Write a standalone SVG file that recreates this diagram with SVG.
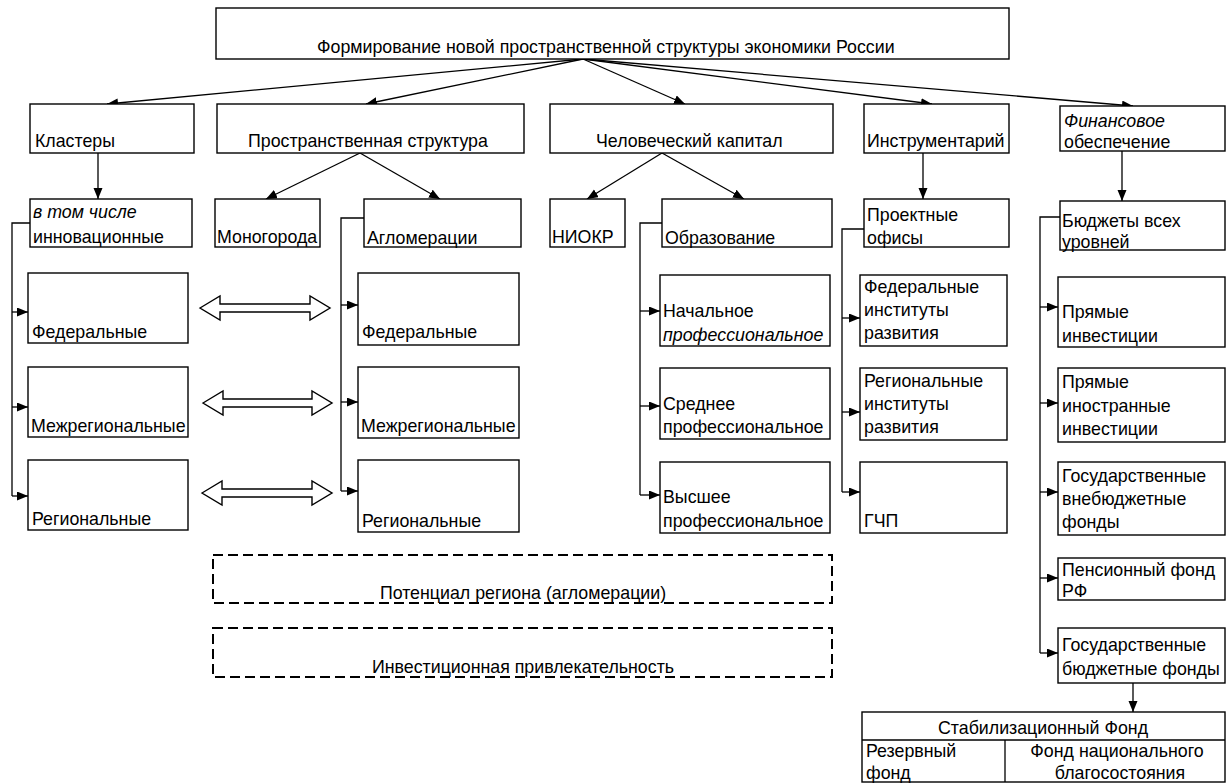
<svg xmlns="http://www.w3.org/2000/svg" width="1227" height="784" viewBox="0 0 1227 784">
<defs>
<style>
.b{fill:#fff;stroke:#000;stroke-width:1.4}
.d{fill:none;stroke:#000;stroke-width:2;stroke-dasharray:10,5}
.c{fill:none;stroke:#000;stroke-width:1.3}
.dbl{fill:#fff;stroke:#000;stroke-width:1.4;stroke-linejoin:miter}
text{font-family:"Liberation Sans",Arial,sans-serif;font-size:17.8px;fill:#000}
.m{text-anchor:middle}
.i{font-style:italic}
</style>
<marker id="a" markerUnits="userSpaceOnUse" markerWidth="12" markerHeight="10" refX="11" refY="4.5" orient="auto">
<path d="M0,0 L11,4.5 L0,9 z" fill="#000"/>
</marker>
</defs>
<rect width="1227" height="784" fill="#fff"/>

<g id="connectors">
<path class="c" marker-end="url(#a)" d="M583,59 L107,104"/>
<path class="c" marker-end="url(#a)" d="M583,59 L366,104"/>
<path class="c" marker-end="url(#a)" d="M583,59 L685,104"/>
<path class="c" marker-end="url(#a)" d="M583,59 L932,104"/>
<path class="c" marker-end="url(#a)" d="M583,59 L1133,106"/>
<path class="c" marker-end="url(#a)" d="M98,153 L98,199"/>
<path class="c" marker-end="url(#a)" d="M360,153 L266,199"/>
<path class="c" marker-end="url(#a)" d="M360,153 L440,199"/>
<path class="c" marker-end="url(#a)" d="M662,153 L587,199"/>
<path class="c" marker-end="url(#a)" d="M662,153 L744,199"/>
<path class="c" marker-end="url(#a)" d="M923,153 L923,199"/>
<path class="c" marker-end="url(#a)" d="M1122,151 L1122,201"/>
<!-- clusters -->
<path class="c" d="M30,223 H12 V496"/>
<path class="c" marker-end="url(#a)" d="M12,312 H28"/>
<path class="c" marker-end="url(#a)" d="M12,407 H28"/>
<path class="c" marker-end="url(#a)" d="M12,496 H28"/>
<!-- agglomerations -->
<path class="c" d="M364,218 H341 V491"/>
<path class="c" marker-end="url(#a)" d="M341,305 H358"/>
<path class="c" marker-end="url(#a)" d="M341,402 H358"/>
<path class="c" marker-end="url(#a)" d="M341,491 H358"/>
<!-- education -->
<path class="c" d="M662,223 H640 V495"/>
<path class="c" marker-end="url(#a)" d="M640,311 H660"/>
<path class="c" marker-end="url(#a)" d="M640,406 H660"/>
<path class="c" marker-end="url(#a)" d="M640,495 H660"/>
<!-- institutes -->
<path class="c" d="M864,229 H842 V492"/>
<path class="c" marker-end="url(#a)" d="M842,318 H860"/>
<path class="c" marker-end="url(#a)" d="M842,412 H860"/>
<path class="c" marker-end="url(#a)" d="M842,492 H860"/>
<!-- finance -->
<path class="c" d="M1060,217 H1040 V653"/>
<path class="c" marker-end="url(#a)" d="M1040,307 H1058"/>
<path class="c" marker-end="url(#a)" d="M1040,403 H1058"/>
<path class="c" marker-end="url(#a)" d="M1040,492 H1058"/>
<path class="c" marker-end="url(#a)" d="M1040,578 H1058"/>
<path class="c" marker-end="url(#a)" d="M1040,653 H1058"/>
<path class="c" marker-end="url(#a)" d="M1133,683 L1133,712"/>
<!-- double arrows -->
<path class="dbl" d="M200,308 L220,296 L220,304 L310,304 L310,296 L330,308 L310,320 L310,312 L220,312 L220,320 Z"/>
<path class="dbl" d="M203,403 L223,391 L223,399 L312,399 L312,391 L332,403 L312,415 L312,407 L223,407 L223,415 Z"/>
<path class="dbl" d="M202,493 L222,481 L222,489 L312,489 L312,481 L332,493 L312,505 L312,497 L222,497 L222,505 Z"/>
</g>

<g id="top"><rect class="b" x="216" y="8" width="793" height="51"/><text x="317" y="53">Формирование новой пространственной структуры экономики России</text></g>

<g id="clusters"><rect class="b" x="30" y="104" width="164" height="49"/><text x="35" y="147">Кластеры</text></g>
<g id="spatial"><rect class="b" x="217" y="104" width="307" height="49"/><text x="248" y="147">Пространственная структура</text></g>
<g id="human"><rect class="b" x="550" y="104" width="283" height="49"/><text x="596" y="147">Человеческий капитал</text></g>
<g id="tools"><rect class="b" x="864" y="104" width="145" height="49"/><text x="867" y="147">Инструментарий</text></g>
<g id="finance"><rect class="b" x="1060" y="106" width="165" height="45"/><text x="1064" y="127" class="i">Финансовое</text><text x="1064" y="148">обеспечение</text></g>

<g id="innov"><rect class="b" x="30" y="199" width="162" height="48"/><text x="33" y="218" class="i">в том числе</text><text x="33" y="243">инновационные</text></g>
<g id="mono"><rect class="b" x="215" y="199" width="105" height="48"/><text x="217" y="243">Моногорода</text></g>
<g id="aggl"><rect class="b" x="364" y="199" width="157" height="48"/><text x="367" y="244">Агломерации</text></g>
<g id="niokr"><rect class="b" x="550" y="199" width="75" height="48"/><text x="552" y="243">НИОКР</text></g>
<g id="edu"><rect class="b" x="662" y="199" width="170" height="48"/><text x="665" y="244">Образование</text></g>
<g id="offices"><rect class="b" x="864" y="199" width="145" height="48"/><text x="867" y="221">Проектные</text><text x="867" y="244">офисы</text></g>
<g id="budgets"><rect class="b" x="1060" y="201" width="165" height="49"/><text x="1062" y="227">Бюджеты всех</text><text x="1062" y="248">уровней</text></g>

<g id="cl-fed"><rect class="b" x="28" y="273" width="160" height="70"/><text x="32" y="338">Федеральные</text></g>
<g id="cl-mezh"><rect class="b" x="28" y="367" width="160" height="70"/><text x="31" y="432">Межрегиональные</text></g>
<g id="cl-reg"><rect class="b" x="28" y="460" width="160" height="70"/><text x="32" y="525">Региональные</text></g>

<g id="ag-fed"><rect class="b" x="358" y="273" width="161" height="72"/><text x="362" y="338">Федеральные</text></g>
<g id="ag-mezh"><rect class="b" x="358" y="367" width="161" height="71"/><text x="361" y="432">Межрегиональные</text></g>
<g id="ag-reg"><rect class="b" x="358" y="460" width="161" height="72"/><text x="362" y="527">Региональные</text></g>

<g id="ed-init"><rect class="b" x="660" y="275" width="170" height="71"/><text x="663" y="317">Начальное</text><text x="663" y="341" class="i">профессиональное</text></g>
<g id="ed-mid"><rect class="b" x="660" y="368" width="170" height="71"/><text x="663" y="410">Среднее</text><text x="663" y="433">профессиональное</text></g>
<g id="ed-high"><rect class="b" x="660" y="462" width="170" height="71"/><text x="663" y="503">Высшее</text><text x="663" y="527">профессиональное</text></g>

<g id="inst-fed"><rect class="b" x="860" y="275" width="147" height="71"/><text x="864" y="293">Федеральные</text><text x="864" y="316">институты</text><text x="864" y="339">развития</text></g>
<g id="inst-reg"><rect class="b" x="860" y="368" width="147" height="72"/><text x="864" y="387">Региональные</text><text x="864" y="410">институты</text><text x="864" y="433">развития</text></g>
<g id="ppp"><rect class="b" x="860" y="462" width="147" height="71"/><text x="864" y="527">ГЧП</text></g>

<g id="direct"><rect class="b" x="1058" y="277" width="167" height="70"/><text x="1062" y="318">Прямые</text><text x="1062" y="342">инвестиции</text></g>
<g id="foreign"><rect class="b" x="1058" y="368" width="167" height="74"/><text x="1062" y="388">Прямые</text><text x="1062" y="412">иностранные</text><text x="1062" y="435">инвестиции</text></g>
<g id="offbudget"><rect class="b" x="1058" y="462" width="167" height="73"/><text x="1062" y="482">Государственные</text><text x="1062" y="505">внебюджетные</text><text x="1062" y="528">фонды</text></g>
<g id="pension"><rect class="b" x="1058" y="558" width="167" height="42"/><text x="1062" y="576">Пенсионный фонд</text><text x="1062" y="597">РФ</text></g>
<g id="budgetfunds"><rect class="b" x="1058" y="628" width="167" height="55"/><text x="1062" y="651">Государственные</text><text x="1062" y="675">бюджетные фонды</text></g>

<g id="potential"><rect class="d" x="213" y="555" width="619" height="48"/><text class="m" x="523" y="599">Потенциал региона (агломерации)</text></g>
<g id="invest"><rect class="d" x="213" y="628" width="619" height="49"/><text class="m" x="523" y="673">Инвестиционная привлекательность</text></g>

<g id="stabfund">
<rect class="b" x="862" y="712" width="363" height="70"/>
<path class="c" d="M862,740 H1225 M1005,740 V782"/>
<text class="m" x="1043" y="734">Стабилизационный Фонд</text>
<text x="866" y="757">Резервный</text><text x="866" y="779">фонд</text>
<text class="m" x="1117" y="757">Фонд национального</text><text class="m" x="1120" y="779">благосостояния</text>
</g>
</svg>
